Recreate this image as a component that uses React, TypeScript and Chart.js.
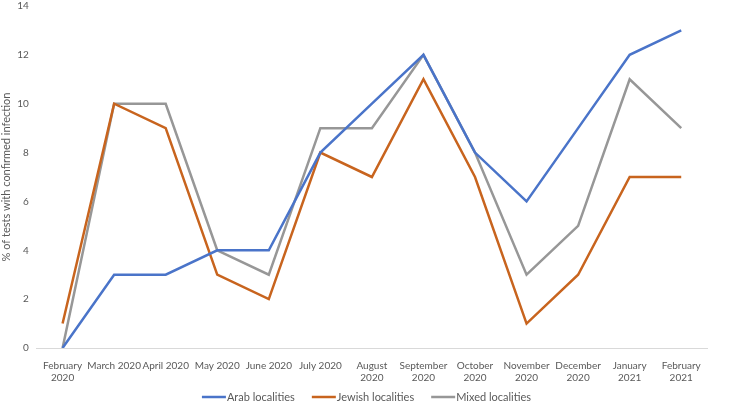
import React, { useEffect, useRef } from "react";
import { Chart, registerables } from "chart.js";

Chart.register(...registerables);

const categories: (string | string[])[] = [
  ["February", "2020"],
  "March 2020",
  "April 2020",
  "May 2020",
  "June 2020",
  "July 2020",
  ["August", "2020"],
  ["September", "2020"],
  ["October", "2020"],
  ["November", "2020"],
  ["December", "2020"],
  ["January", "2021"],
  ["February", "2021"],
];

const arabValues = [0, 3, 3, 4, 4, 8, 10, 12, 8, 6, 9, 12, 13];
const jewishValues = [1, 10, 9, 3, 2, 8, 7, 11, 7, 1, 3, 7, 7];
const mixedValues = [0, 10, 10, 4, 3, 9, 9, 12, 8, 3, 5, 11, 9];

const seriesNames = ["Arab localities", "Jewish localities", "Mixed localities"];
const yTitle = "% of tests with confirmed infection";

const FONT = "Lato, 'Open Sans', sans-serif";

const bottomLegend = {
  id: "bottomLegend",
  afterDraw(chart: any) {
    const ctx = chart.ctx;
    const y = 397;
    const lineW = 24;
    const gapLine = 1;
    const gapItem = 17;
    ctx.save();
    ctx.font = `11px ${FONT}`;
    const items = chart.data.datasets.map((d: any) => ({
      text: d.label,
      color: d.borderColor,
      w: ctx.measureText(d.label).width,
    }));
    const total =
      items.reduce((s: number, it: any) => s + lineW + gapLine + it.w, 0) + gapItem * (items.length - 1);
    let x = chart.width / 2 - total / 2;
    ctx.textBaseline = "middle";
    ctx.textAlign = "left";
    for (const it of items) {
      ctx.strokeStyle = it.color;
      ctx.lineWidth = 2.5;
      ctx.beginPath();
      ctx.moveTo(x, y);
      ctx.lineTo(x + lineW, y);
      ctx.stroke();
      ctx.fillStyle = "#595959";
      ctx.fillText(it.text, x + lineW + gapLine, y);
      x += lineW + gapLine + it.w + gapItem;
    }
    ctx.restore();
  },
};

export default function App() {
  const ref = useRef<HTMLCanvasElement>(null);
  useEffect(() => {
    if (!ref.current) return;
    const chart = new Chart(ref.current, {
      type: "line",
      data: {
        labels: categories as any,
        datasets: [
          { label: seriesNames[0], data: arabValues, borderColor: "#4A74C9", backgroundColor: "#4A74C9" },
          { label: seriesNames[1], data: jewishValues, borderColor: "#C8641E", backgroundColor: "#C8641E" },
          { label: seriesNames[2], data: mixedValues, borderColor: "#979797", backgroundColor: "#979797" },
        ].map((d) => ({ ...d, borderWidth: 2.5, pointRadius: 0, tension: 0, fill: false })),
      },
      options: {
        animation: false,
        responsive: false,
        maintainAspectRatio: false,
        layout: { padding: { top: 0, right: 26, left: 0, bottom: 6 } },
        plugins: {
          legend: { display: false },
          tooltip: { enabled: false },
        },
        scales: {
          x: {
            offset: true,
            grid: { display: false, drawTicks: false },
            border: { display: true, color: "#D9D9D9", width: 1 },
            ticks: {
              color: "#595959",
              font: { family: FONT, size: 10 },
              maxRotation: 0,
              autoSkip: false,
              padding: 12,
            },
          },
          y: {
            min: 0,
            max: 14,
            grid: { display: false, drawTicks: true, tickLength: 8 },
            border: { display: false },
            ticks: {
              stepSize: 2,
              color: "#595959",
              font: { family: FONT, size: 10 },
              padding: 0,
            },
            title: {
              display: true,
              text: yTitle,
              color: "#595959",
              font: { family: FONT, size: 11 },
              padding: { top: 0, bottom: 4 },
            },
          },
        },
      },
      plugins: [bottomLegend],
    });
    return () => chart.destroy();
  }, []);
  return (
    <div style={{ position: "fixed", left: 0, top: 0, width: 733, height: 402, background: "#fff" }}>
      <canvas ref={ref} width={733} height={402} />
    </div>
  );
}
